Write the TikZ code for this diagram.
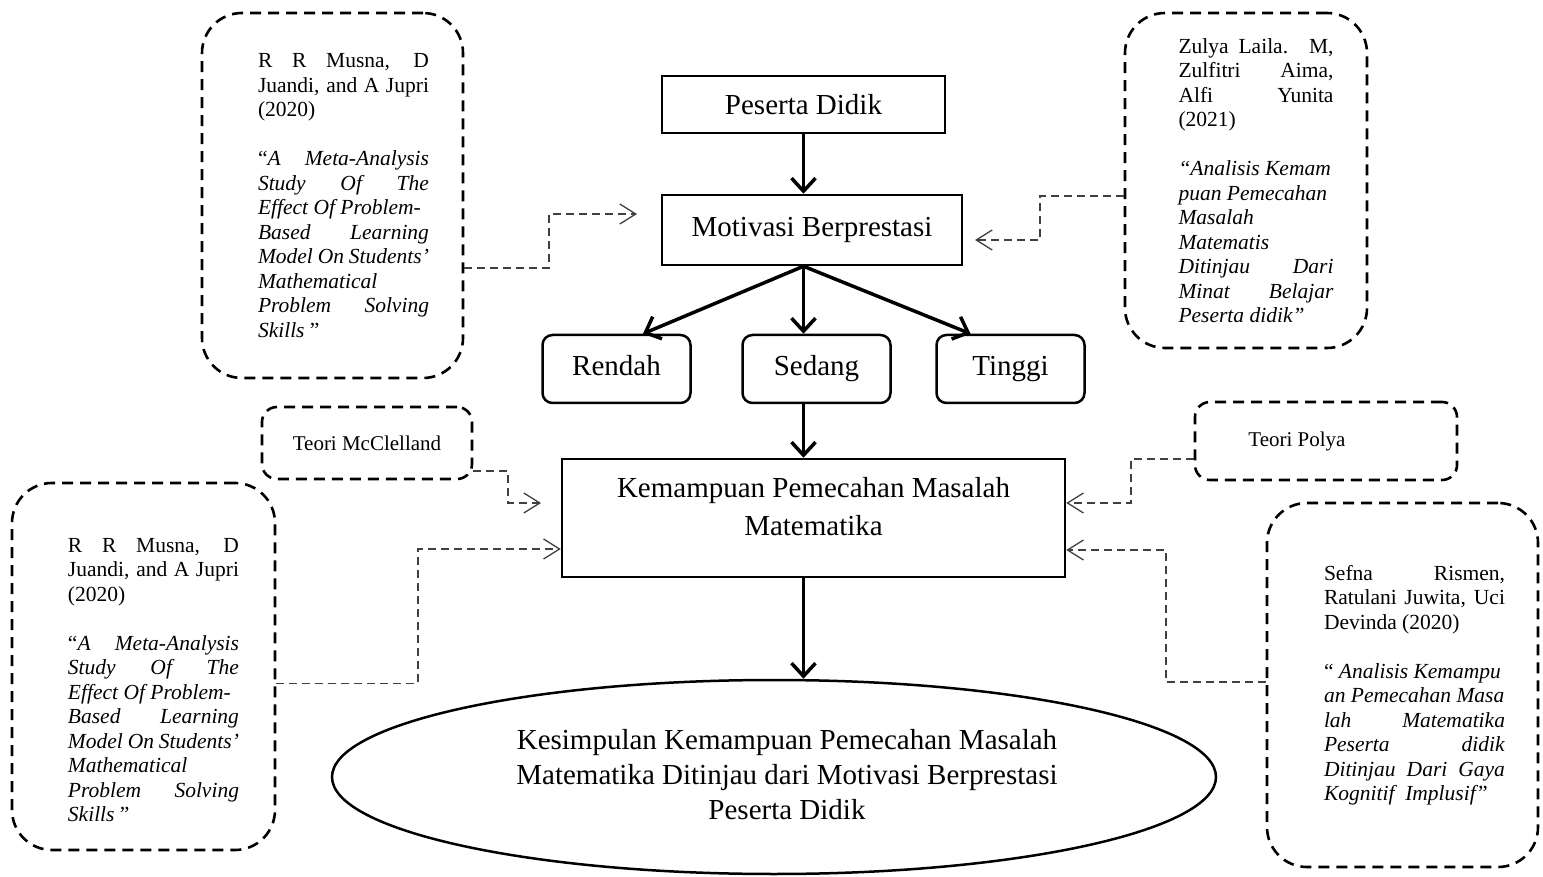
\documentclass[tikz,border=0pt]{standalone}
\usepackage{fontspec}
\setmainfont{Liberation Serif}
\usetikzlibrary{positioning, arrows.meta, shapes.geometric, calc}

\newcommand{\jl}[1]{\makebox[\linewidth][s]{#1}}

\begin{document}
\begin{tikzpicture}[x=1pt, y=-1pt]
	\tikzset{
		mainbox/.style={draw, line width=2.5pt, inner sep=0pt, font=\fontsize{29}{35}\selectfont},
		levelbox/.style={mainbox, rounded corners=10pt, minimum width=148pt, minimum height=68pt, text height=20pt, text depth=6pt},
		refbox/.style={draw, line width=2.6pt, dash pattern=on 11pt off 7pt, rounded corners=40pt, inner sep=0pt, font=\fontsize{21.5}{24.5}\selectfont},
		theorybox/.style={refbox, rounded corners=15pt, font=\fontsize{21}{24}\selectfont},
		mainarrow/.style={line width=3.5pt, -{Straight Barb[length=13pt, width=24pt]}},
		refline/.style={draw=black!75, line width=1.3pt, dash pattern=on 8pt off 5pt, -{Straight Barb[length=16pt, width=20pt]}}
	}
	\useasboundingbox (0,0) rectangle (1543,877);

	% alur utama
	\node[mainbox, minimum width=283pt, minimum height=57pt] (peserta) at (803.5,104.5) {Peserta Didik};
	\node[mainbox, minimum width=300pt, minimum height=70pt] (motiv) at (812,230) {Motivasi Berprestasi};
	\node[levelbox] (rendah) at (616.5,369) {Rendah};
	\node[levelbox] (sedang) at (816.5,369) {Sedang};
	\node[levelbox] (tinggi) at (1010.5,369) {Tinggi};
	\node[mainbox, minimum width=503pt, minimum height=118pt, align=center, text depth=23pt, font=\fontsize{29}{38}\selectfont] (kemamp) at (813.5,518) {Kemampuan Pemecahan Masalah\\Matematika};
	\node[mainbox, ellipse, minimum width=884pt, minimum height=194pt] (concl) at (774,777)
		{\hspace*{26pt}\begin{tabular}{@{}c@{}}Kesimpulan Kemampuan Pemecahan Masalah\\Matematika Ditinjau dari Motivasi Berprestasi\\Peserta Didik\end{tabular}};

	\draw[mainarrow] (peserta.south) -- (peserta.south |- motiv.north);
	\draw[mainarrow] (peserta.south |- motiv.south) -- ([xshift=26.5pt]rendah.north);
	\draw[mainarrow] (peserta.south |- motiv.south) -- (peserta.south |- sedang.north);
	\draw[mainarrow] (peserta.south |- motiv.south) -- ([xshift=-40pt]tinggi.north);
	\draw[mainarrow] (peserta.south |- sedang.south) -- (peserta.south |- kemamp.north);
	\draw[mainarrow] (peserta.south |- kemamp.south) -- (peserta.south |- concl.north);

	% rujukan
	\node[refbox, minimum width=261pt, minimum height=365pt] (tlref) at (332.5,195.5)
		{\hspace*{22pt}\parbox{171pt}{%
			\jl{R R Musna, D}\\
			\jl{Juandi, and A Jupri}\\
			(2020)\\[24.5pt]
			\jl{“\textit{A Meta-Analysis}}\\
			\jl{\textit{Study Of The}}\\
			\textit{Effect Of Problem-}\\
			\jl{\textit{Based Learning}}\\
			\jl{\textit{Model On Students’}}\\
			\textit{Mathematical}\\
			\jl{\textit{Problem Solving}}\\
			\textit{Skills} ”}};
	\node[refbox, minimum width=242pt, minimum height=335pt] (trref) at (1246,180.5)
		{\hspace*{20pt}\parbox{155pt}{%
			\jl{Zulya Laila. M,}\\
			\jl{Zulfitri Aima,}\\
			\jl{Alfi Yunita}\\
			(2021)\\[24.5pt]
			\textit{“Analisis Kemam}\\
			\textit{puan Pemecahan}\\
			\textit{Masalah}\\
			\textit{Matematis}\\
			\jl{\textit{Ditinjau Dari}}\\
			\jl{\textit{Minat Belajar}}\\
			\textit{Peserta didik”}}};
	\node[refbox, minimum width=263pt, minimum height=367pt] (blref) at (143.5,666.5)
		{\hspace*{20pt}\parbox{171pt}{\vspace*{27pt}%
			\jl{R R Musna, D}\\
			\jl{Juandi, and A Jupri}\\
			(2020)\\[24.5pt]
			\jl{“\textit{A Meta-Analysis}}\\
			\jl{\textit{Study Of The}}\\
			\textit{Effect Of Problem-}\\
			\jl{\textit{Based Learning}}\\
			\jl{\textit{Model On Students’}}\\
			\textit{Mathematical}\\
			\jl{\textit{Problem Solving}}\\
			\textit{Skills} ”}};
	\node[refbox, minimum width=271pt, minimum height=364pt] (brref) at (1402.5,685)
		{\hspace*{24pt}\parbox{181pt}{%
			\jl{Sefna Rismen,}\\
			\jl{Ratulani Juwita, Uci}\\
			Devinda (2020)\\[24.5pt]
			“ \textit{Analisis Kemampu}\\
			\textit{an Pemecahan Masa}\\
			\jl{\textit{lah Matematika}}\\
			\jl{\textit{Peserta didik}}\\
			\jl{\textit{Ditinjau Dari Gaya}}\\
			\textit{Kognitif~~Implusif}”}};
	\node[theorybox, minimum width=210pt, minimum height=72pt] (mcc) at (367,443) {Teori McClelland};
	\node[theorybox, minimum width=262pt, minimum height=78pt] (polya) at (1326,441) {Teori Polya\hspace*{58pt}};

	% garis rujukan
	\coordinate (bendA) at (549,214);
	\coordinate (tipA) at (637,214);
	\coordinate (bendB) at (1040,240);
	\coordinate (tipB) at (975,240);
	\coordinate (bendC) at (508,503);
	\coordinate (tipC) at (541,503);
	\coordinate (bendD) at (418,549);
	\coordinate (bendE) at (1131,503);
	\coordinate (bendF) at (1166,550);
	\draw[refline] ([yshift=-72.5pt]tlref.east) -| (bendA) -- (tipA);
	\draw[refline] ([yshift=-15.5pt]trref.west) -| (bendB) -- (tipB);
	\draw[refline] ([yshift=-28pt]mcc.east) -| (bendC) -- (tipC);
	\draw[refline] ([yshift=-17pt]blref.east) -| (bendD) -- ([yshift=-31pt]kemamp.west);
	\draw[refline] ([yshift=-18pt]polya.west) -| (bendE) -- ([yshift=15pt]kemamp.east);
	\draw[refline] ([yshift=3pt]brref.west) -| (bendF) -- ([yshift=-32pt]kemamp.east);
\end{tikzpicture}
\end{document}
